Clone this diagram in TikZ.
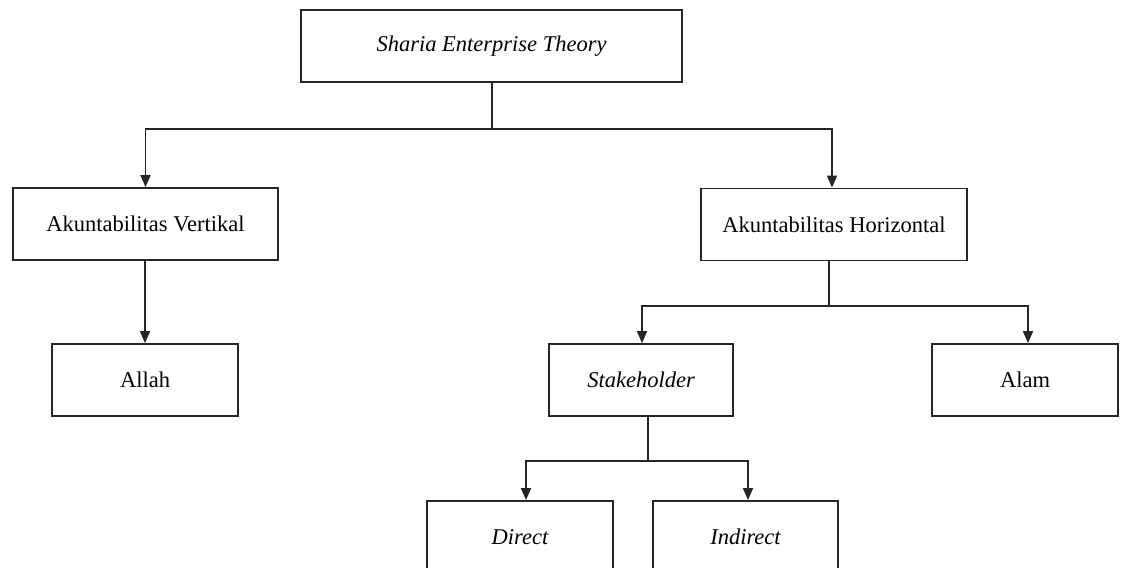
\documentclass[tikz,border=0pt]{standalone}
\usepackage{fontspec}
\setmainfont{Liberation Serif}
\usetikzlibrary{arrows.meta,calc}
\begin{document}
\begin{tikzpicture}[x=1pt,y=-1pt,
  box/.style={draw=black!85, line width=1.8pt, rectangle, minimum height=72pt, inner sep=0pt,
    font=\fontsize{22.5}{27}\selectfont},
  conn/.style={draw=black!85, line width=1.8pt},
  arr/.style={conn, -{Triangle[width=10pt,length=12pt]}}]
\useasboundingbox (0,0) rectangle (1123,567);
\begin{scope}
\clip (0,0) rectangle (1123,567);
\node[box, minimum width=381pt] (top) at (491.5,46.3) {\itshape Sharia Enterprise Theory};
\node[box, minimum width=265pt] (vert) at (145.5,224) {Akuntabilitas Vertikal};
\node[box, minimum width=266pt] (horiz) at (834,224.5) {Akuntabilitas Horizontal};
\node[box, minimum width=186pt] (allah) at (145,380) {Allah};
\node[box, minimum width=184pt] (stake) at (641,380) {\itshape Stakeholder};
\node[box, minimum width=186pt] (alam) at (1025,380) {Alam};
\node[box, minimum width=186pt] (direct) at (520,537) {\itshape Direct};
\node[box, minimum width=185pt] (indirect) at (745.5,537) {\itshape Indirect};

\coordinate (j1) at (492,129);
\coordinate (j2) at (829,306);
\coordinate (j3) at (648,461);

\draw[conn] (j1 |- top.south) -- (j1);
\draw[arr] (j1) -| (vert.north);
\draw[arr] (j1) -| ($(horiz.north)+(-2,0)$);
\draw[arr] (vert.south -| allah.north) -- (allah.north);

\draw[conn] (j2 |- horiz.south) -- (j2);
\draw[arr] (j2) -| ($(stake.north)+(1,0)$);
\draw[arr] (j2) -| ($(alam.north)+(3,0)$);

\draw[conn] (j3 |- stake.south) -- (j3);
\draw[arr] (j3) -| ($(direct.north)+(6,0)$);
\draw[arr] (j3) -| ($(indirect.north)+(2.5,0)$);
\end{scope}
\end{tikzpicture}
\end{document}
